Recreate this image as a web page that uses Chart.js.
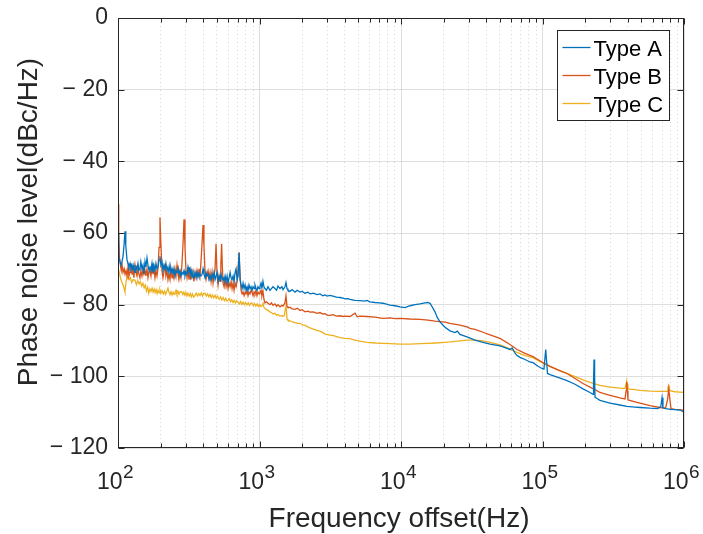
<!DOCTYPE html>
<html>
<head>
<meta charset="utf-8">
<script src="https://cdn.jsdelivr.net/npm/chart.js@4.4.0/dist/chart.umd.min.js"></script>
<style>
html,body{margin:0;padding:0;background:#fff;}
#wrap{width:703px;height:534px;}
</style>
</head>
<body>
<div id="wrap"><canvas id="c" width="703" height="534"></canvas></div>
<script>
const seriesNames = ['Type A', 'Type B', 'Type C'];
const seriesColors = ['#0072BD', '#D95319', '#EDB120'];

const xTitle = 'Frequency offset(Hz)';
const yTitle = 'Phase noise level(dBc/Hz)';

const xTickValues = [100, 1000, 10000, 100000, 1000000];
const xTickBase = '10';
const xTickExponents = ['2', '3', '4', '5', '6'];
const xMinorValues = [200,300,400,500,600,700,800,900,
  2000,3000,4000,5000,6000,7000,8000,9000,
  20000,30000,40000,50000,60000,70000,80000,90000,
  200000,300000,400000,500000,600000,700000,800000,900000];
const yTickValues = [0, -20, -40, -60, -80, -100, -120];
const yTickLabels = ['0', '\u2212 20', '\u2212 40', '\u2212 60', '\u2212 80', '\u2212 100', '\u2212 120'];

// Type A
const freqA = [
100,101.2,103.3,105,106.7,108.5,110.5,112.1,113.5,115.8,
117.7,119.5,121.6,123.5,125.6,127.6,129.5,131.9,134,136.2,
138.4,140.5,142.9,145,147.7,150.2,152.5,155.2,157.5,160.3,
162.9,165.5,168.3,171,173.9,176.7,179.5,182.5,185.5,188.6,
191.6,195,198,201,204.6,207.9,211,214.8,218,221.9,
225.5,229,233,236.5,240.8,244.7,248.5,252.8,257,261.2,
265.4,269.5,274.2,278.5,283.4,288,292.8,297.5,302,307.4,
312.4,317.5,322.8,328,333.5,338.9,344,350.2,356,361.8,
367.7,373.5,379.9,386,392.5,398.9,405,412.2,419,425.9,
432.8,440,447.2,454.5,462.1,469.6,477,485.2,493,501.3,
509.5,518,526.4,535,543.9,552.8,562,571.1,580.5,590.1,
599.7,609.5,619.6,630,640.2,650.6,661,672.2,683,694.6,
705.9,717.4,729.1,741,753.3,765.6,778,791.1,804,817.4,
830,843,857,871,885.5,900,915,929,944,960,
975,992,1008,1025,1040,1058,1075,1093,1120,1148,
1186,1215,1245,1287,1320,1351,1396,1440,1466,1514,
1539,1565,1590,1643,1700,1782,1850,1932,2000,2097,
2200,2274,2400,2549,2677,2800,2904,3000,3150,3306,
3500,3706,3900,4020,4200,4361,4730,5131,5500,5752,
6041,6553,7000,7461,8000,8364,9071,9840,10674,11580,
12562,13626,14781,15522,16100,16561,17383,18000,18855,20454,
22188,24069,25000,26110,29258,33342,37985,42605,50100,54348,
58957,61000,63955,66071,69378,75260,81640,85740,92990,99150,
102400,104000,105400,107000,108500,113100,122700,133100,148900,169700,
193300,216700,227500,229500,231300,233500,235000,242700,254800,299700,
352900,393700,450800,488700,575400,650000,685000,699500,710000,740000,
809200,863000,937000,1000000];
const levelA = [
-60,-66.5,-68,-69,-68,-66.5,-63,-59.5,-63.5,-67.5,
-68.5,-69.5,-68.5,-70,-69,-70.5,-69,-71,-69.5,-70,
-68.5,-70.5,-70,-68,-70,-69,-71.5,-68,-69.5,-67,
-69,-70.5,-69.5,-70.5,-68.5,-71,-69,-70.5,-68.5,-70,
-69.5,-67.5,-66.5,-69,-68,-70.5,-69,-70,-68.5,-70.5,
-69.5,-71,-69,-71,-70,-71.5,-70,-72,-70.5,-71,
-69.5,-71.5,-70.5,-72,-71,-71.5,-70.5,-72,-71,-71.5,
-69.5,-71,-70,-72,-71,-72.5,-71,-72,-71,-72.5,
-71,-72,-71.5,-72,-71.5,-70,-71.5,-72.5,-71,-72,
-71.5,-73,-72,-73,-71.5,-72.5,-71,-73,-72,-71,
-73.5,-72,-73,-71.5,-73,-72.5,-73.5,-72,-73.5,-72,
-74,-72.5,-71,-72.5,-73,-72,-73.5,-71,-70,-73,
-72,-65.5,-73,-74.5,-75.5,-74,-75.5,-74.5,-76,-75,
-76,-74.5,-75.5,-75,-76,-75,-75.5,-74.5,-75.5,-76,
-75,-75.5,-75,-74,-75.5,-73.5,-75,-75.5,-76,-75,
-76,-75.5,-75,-75.5,-76,-74.8,-75.5,-75,-75.8,-75,
-73.8,-75.5,-76,-76.3,-75.8,-76.5,-76,-76.5,-76.3,-76.8,
-76.5,-77,-76.8,-77.2,-77,-77.5,-77.3,-77.6,-77.4,-77.6,
-77.9,-78,-78.2,-78.4,-78.3,-78.5,-78.8,-78.9,-79,-78.8,
-79.2,-79.4,-79.5,-79.6,-79.9,-80.1,-80.3,-80.6,-80.8,-80.3,
-80,-79.8,-79.5,-79.4,-79.7,-80.5,-82,-83.5,-84.8,-86.3,
-87.3,-87.8,-87.4,-88.3,-89,-89.9,-90.5,-91,-91.5,-92,
-92.5,-92.1,-93.5,-94.2,-94.7,-95.3,-96,-96.2,-97.2,-97.8,
-98,-95,-92.5,-96,-99.2,-99.5,-100,-100.5,-101.2,-102.2,
-103.5,-104.5,-105,-101,-95.3,-100,-105.8,-106.2,-106.7,-107.5,
-108,-108.4,-108.6,-108.7,-108.9,-109,-108.5,-106,-108.8,-109,
-109.2,-109.3,-109.4,-110];

// Type B
const freqB = [
100,101.2,102.5,104,105.5,107,108.5,110.5,112.1,114,
115.8,117.7,119.5,121.6,123.5,125.6,127.6,129.5,131.9,134,
136.2,138.4,140.5,142.9,145,147.7,150.2,152.5,155.2,157.5,
160.3,162.9,165.5,168.3,171,173.9,176.7,179.5,182.5,185.5,
188.6,191.6,195,198,201,204.6,207.9,211,214.8,218,
221.9,225.5,229,233,236.5,240.8,244.7,248.5,252.8,257,
261.2,265.4,269.5,274.2,278.5,283.4,288,292.8,297.5,302,
307.4,312.4,317.5,322.8,328,333.5,338.9,344,350.2,356,
361.8,367.7,373.5,379.9,386,392.5,398.9,405,412.2,419,
425.9,432.8,440,447.2,454.5,462.1,469.6,477,485.2,493,
501.3,509.5,518,526.4,533,540,547,552.8,562,571.1,
580.5,590.1,599.7,609.5,619.6,630,640.2,650.6,661,672.2,
683,694.6,705.9,717.4,729.1,741,753.3,765.6,778,791.1,
804,817.4,830,843,857,871,885.5,900,915,929,
944,960,975,992,1008,1025,1040,1058,1075,1093,
1120,1148,1186,1215,1245,1287,1320,1351,1396,1440,
1466,1514,1539,1565,1590,1643,1700,1782,1850,1932,
2000,2097,2200,2274,2400,2549,2677,2800,2904,3000,
3150,3306,3500,3706,3900,4020,4361,4730,4900,5131,
5752,6553,7461,8364,9071,9840,11580,13626,15522,17383,
20454,22188,26110,29258,30737,33342,37985,42605,50100,58957,
66071,75260,85740,99150,113100,133100,148900,169700,193300,216700,
235000,254800,299700,352900,382900,390000,393700,398000,401900,450800,
488700,575400,676100,740000,765000,780000,795000,809200,863000,937000,
1000000];
const levelB = [
-52,-61,-67,-69,-70.5,-69,-71,-70,-71.5,-70.5,
-72,-69.5,-72,-71,-68.5,-71.5,-70,-72.5,-69,-71,
-72,-70,-71.5,-72.5,-70.5,-72,-70,-71.5,-70.5,-72,
-70,-72.5,-71,-70.5,-72,-69.5,-71.5,-70,-72.5,-70.5,
-72,-70,-64,-55.6,-63,-70.5,-72.5,-71,-68.5,-72,
-70.5,-73,-71.5,-73,-70,-72.5,-71,-72.5,-70,-72,
-69,-71.5,-73,-71,-72.5,-68.5,-63,-56.2,-64,-70,
-72.5,-70.5,-73,-71.5,-73,-70.5,-72,-73.5,-71,-72.5,
-70.5,-72,-70,-72,-68,-63,-57.8,-63.5,-71,-73,
-71.5,-70.5,-72.5,-71,-73.5,-71,-74,-72,-70,-63,
-71.5,-74.5,-72,-73.5,-69,-63,-70,-74,-75,-73,
-75,-73.5,-75.5,-74,-75,-73.5,-75.5,-74,-76,-74,
-75,-73.5,-70,-65.4,-72,-76,-77,-76.5,-77.5,-76.5,
-77,-76,-77.5,-76.5,-77,-76,-76.5,-77.5,-76.5,-77,
-76,-77.5,-76.5,-77,-76.5,-76,-77.5,-76.2,-78.5,-79.5,
-79.2,-79.6,-80,-79.5,-80.2,-79.8,-80.5,-80,-80.6,-80.2,
-80.4,-79.5,-77.5,-80.5,-80.8,-80.7,-81.2,-81.3,-81,-81.6,
-81.4,-82,-81.8,-82.1,-82,-82.4,-82.2,-82.6,-82.5,-82.9,
-83,-82.8,-83.2,-83.1,-83.3,-83.2,-83.3,-82.4,-83.4,-83.2,
-83.3,-83.5,-83.8,-83.7,-83.9,-83.8,-84,-84.1,-84.3,-84.6,
-84.9,-85.2,-85.7,-86.2,-86.6,-86.9,-87.7,-88.4,-89.4,-91.1,
-92.5,-93.6,-94.5,-96,-97.2,-98.5,-99.2,-100.6,-102,-103,
-103.7,-104.5,-105.3,-106,-106.3,-104,-101.5,-104,-106.6,-107.1,
-107.5,-108.2,-108.7,-108.9,-106.5,-103.5,-106.5,-109,-109.2,-109.3,
-109.5];

// Type C
const freqC = [
100,102,104,106.2,108.5,110.5,112,114,116,117.7,
120,122.5,125,128,131.9,135,138,141,144,147,
150,153,156,159,162,165,168,171,174,177,
180,183,186,189,192,195,198,201,205,209,
213,217,221,225.5,229,233,237,241,245,249,
252.8,257,261,265,270,275,281.5,287,292,297,
302,307,312,318,324,330,336,343,350,357,
364,372,380,388,396,404,412,420,429,438,
447,456,465,475,485,495,505,510,520,531,
542,553,565,577,589,600,612,624,637,650,
663,677,691,706,720,735,750,766,782,798,
815,832,849,867,885,904,923,942,962,982,
1002,1025,1045,1058,1075,1093,1120,1148,1186,1215,
1245,1287,1320,1351,1396,1440,1466,1500,1525,1539,
1552,1565,1590,1643,1700,1782,1850,1932,2000,2097,
2200,2274,2400,2549,2677,2800,2904,3150,3306,3500,
3706,4020,4361,4730,5131,5752,6553,7461,8364,9840,
11580,13626,15522,17383,20454,22188,26110,29258,33342,37985,
42605,50100,54348,58957,66071,75260,85740,99150,113100,133100,
148900,169700,193300,216700,254800,299700,352900,382900,390000,393700,
398000,401900,450800,488700,575400,676100,760000,770000,780000,795000,
863000,937000,1000000];
const levelC = [
-69.5,-71,-72.5,-73.6,-74.5,-75.5,-76.4,-73.5,-72.3,-71.8,
-73,-72.5,-73.8,-73,-73.2,-74.4,-73.3,-74.2,-73.6,-74.8,
-74,-75.3,-74.5,-76.2,-75.2,-76.8,-75.6,-76.3,-75.4,-76.5,
-75.6,-76.6,-75.8,-76.9,-76,-76.7,-75.9,-76.8,-76.1,-77,
-76.2,-77.1,-76.3,-75.4,-76.5,-77.2,-76.4,-77.3,-76.5,-77.1,
-76.8,-76,-77,-76.3,-77.1,-76.4,-76.4,-77.2,-76.5,-77.4,
-76.6,-77.5,-76.8,-77.6,-76.9,-77.8,-77,-77.9,-77.4,-76.8,
-77.6,-76.9,-77.5,-76.7,-77.6,-76.8,-76.8,-77.6,-77,-77.8,
-77.1,-78,-77.3,-78.1,-77.4,-78.2,-77.6,-78,-78.5,-77.8,
-78.7,-78,-78.9,-78.2,-79,-78.8,-78.3,-79.2,-78.6,-79.4,
-78.8,-79.5,-78.9,-79.3,-79.8,-79.1,-79.9,-79.3,-80,-79.4,
-80.1,-79.5,-80.2,-79.6,-79.6,-80.3,-79.7,-80.4,-79.8,-80.5,
-80,-80.5,-80.2,-79.3,-80.8,-81.1,-81.4,-81.6,-82,-82.2,
-82.6,-82.4,-83,-82.7,-83.2,-83,-83.3,-83,-81,-79.5,
-82,-84,-84.4,-84.5,-84.8,-85,-85.2,-85.2,-85.6,-85.8,
-86.2,-86.5,-86.8,-87.2,-87.4,-87.8,-88.2,-88.5,-88.6,-88.9,
-89.2,-89.4,-89.5,-89.9,-90.2,-90.5,-90.7,-90.8,-90.9,-91,
-91,-90.9,-90.8,-90.7,-90.5,-90.4,-90.1,-89.9,-89.9,-90.1,
-90.5,-91.2,-91.8,-92.4,-93.3,-94.2,-94.8,-96.2,-97.3,-98.4,
-99.2,-100.1,-101,-101.7,-102.5,-103,-103.3,-103.4,-102,-101.5,
-102.2,-103.5,-103.7,-103.9,-104.1,-104.2,-104.2,-103,-102.5,-104,
-104.3,-104.4,-104.5];

const seriesFreq = [freqA, freqB, freqC];
const seriesLevel = [levelA, levelB, levelC];

const FONT = '"Liberation Sans", Arial, Helvetica, sans-serif';
const INK = '#262626';

const framePlugin = {
  id: 'frame',
  afterDraw(chart) {
    const { ctx, chartArea: a, scales } = chart;
    const x = scales.x, y = scales.y;
    const L = Math.round(a.left) + 0.5, R = Math.round(a.right) - 0.5;
    const T = Math.round(a.top) + 0.5, B = Math.round(a.bottom) - 0.5;
    ctx.save();
    ctx.strokeStyle = INK; ctx.lineWidth = 1;
    ctx.beginPath();
    yTickValues.forEach(v => {
      const py = Math.round(y.getPixelForValue(v)) + 0.5;
      ctx.moveTo(L, py); ctx.lineTo(L + 6, py);
      ctx.moveTo(R, py); ctx.lineTo(R - 6, py);
    });
    xTickValues.forEach(v => {
      const px = Math.round(x.getPixelForValue(v)) + 0.5;
      ctx.moveTo(px, B); ctx.lineTo(px, B - 6);
      ctx.moveTo(px, T); ctx.lineTo(px, T + 6);
    });
    xMinorValues.forEach(v => {
      const px = Math.round(x.getPixelForValue(v)) + 0.5;
      ctx.moveTo(px, B); ctx.lineTo(px, B - 4);
      ctx.moveTo(px, T); ctx.lineTo(px, T + 4);
    });
    ctx.stroke();
    ctx.strokeRect(L, T, R - L, B - T);

    ctx.fillStyle = INK; ctx.textAlign = 'left'; ctx.textBaseline = 'alphabetic';
    xTickValues.forEach((v, i) => {
      const px = x.getPixelForValue(v);
      ctx.font = '23px ' + FONT; const w1 = ctx.measureText(xTickBase).width;
      ctx.font = '19px ' + FONT; const w2 = ctx.measureText(xTickExponents[i]).width;
      const sx = px - (w1 + w2) / 2 - 3;
      ctx.font = '23px ' + FONT; ctx.fillText(xTickBase, sx, a.bottom + 41);
      ctx.font = '19px ' + FONT; ctx.fillText(xTickExponents[i], sx + w1 + 0.5, a.bottom + 30);
    });

    ctx.font = '28px ' + FONT; ctx.textAlign = 'center'; ctx.fillStyle = INK;
    ctx.fillText(xTitle, (a.left + a.right) / 2 - 2, a.bottom + 79);
    ctx.save();
    ctx.translate(a.left - 81, (a.top + a.bottom) / 2 - 11);
    ctx.rotate(-Math.PI / 2);
    ctx.fillText(yTitle, 0, 0);
    ctx.restore();

    const bw = 112, bh = 90;
    const bx = Math.round(a.right) - 15 - bw + 0.5, by = Math.round(a.top) + 12 + 0.5;
    ctx.fillStyle = '#fff'; ctx.fillRect(bx, by, bw, bh);
    ctx.strokeStyle = INK; ctx.lineWidth = 1; ctx.strokeRect(bx, by, bw, bh);
    ctx.font = '22px ' + FONT; ctx.textAlign = 'left'; ctx.textBaseline = 'alphabetic';
    chart.data.datasets.forEach((ds, i) => {
      const cy = by + 17 + i * 28;
      ctx.strokeStyle = ds.borderColor; ctx.lineWidth = 1.3;
      ctx.beginPath(); ctx.moveTo(bx + 5, cy); ctx.lineTo(bx + 33, cy); ctx.stroke();
      ctx.fillStyle = '#000';
      ctx.fillText(ds.label, bx + 36, cy + 8);
    });
    ctx.restore();
  }
};

const noPad = s => { s.paddingTop = 0; s.paddingBottom = 0; s.paddingLeft = 0; s.paddingRight = 0; };

new Chart(document.getElementById('c'), {
  type: 'line',
  data: {
    datasets: seriesNames.map((name, k) => ({
      label: name,
      data: seriesFreq[k].map((f, i) => ({ x: f, y: seriesLevel[k][i] })),
      borderColor: seriesColors[k],
      backgroundColor: seriesColors[k],
      borderWidth: 1.3,
      pointRadius: 0,
      fill: false,
      tension: 0,
      xAxisID: 'x',
      yAxisID: 'y'
    }))
  },
  options: {
    responsive: false,
    animation: false,
    devicePixelRatio: 1,
    layout: { padding: { top: 18, right: 19, left: 0, bottom: 0 } },
    plugins: { legend: { display: false }, tooltip: { enabled: false } },
    scales: {
      x: {
        type: 'logarithmic', position: 'bottom', min: 100, max: 1000000,
        afterBuildTicks: s => { s.ticks = xTickValues.map(v => ({ value: v })); },
        afterFit: s => { s.height = 86; noPad(s); },
        ticks: { display: false },
        grid: { color: '#dedede', lineWidth: 1, drawTicks: false },
        border: { display: false }
      },
      xMinor: {
        type: 'logarithmic', position: 'top', min: 100, max: 1000000,
        afterBuildTicks: s => { s.ticks = xMinorValues.map(v => ({ value: v })); },
        afterFit: s => { s.height = 0; noPad(s); },
        ticks: { display: false },
        grid: { color: '#d6d6d6', lineWidth: 1, drawTicks: false },
        border: { display: false, dash: [1, 3] }
      },
      y: {
        type: 'linear', position: 'left', min: -120, max: 0,
        afterBuildTicks: s => { s.ticks = yTickValues.slice().reverse().map(v => ({ value: v })); },
        afterFit: s => { s.width = 118; noPad(s); },
        ticks: {
          color: INK, padding: 10, font: { family: FONT, size: 23 },
          callback: v => yTickLabels[yTickValues.indexOf(v)]
        },
        grid: { color: '#dedede', lineWidth: 1, drawTicks: false },
        border: { display: false }
      }
    }
  },
  plugins: [framePlugin]
});
</script>
</body>
</html>
